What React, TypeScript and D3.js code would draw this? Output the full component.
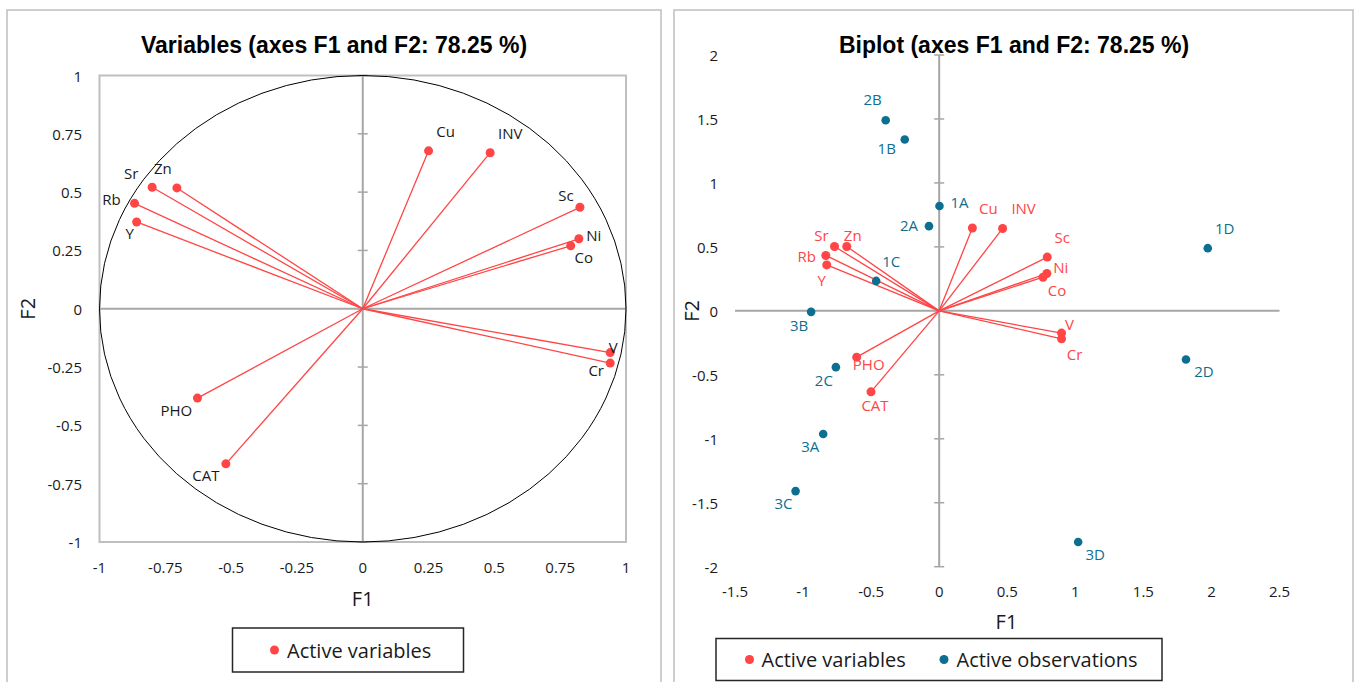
import React from 'react';
import * as d3 from 'd3';

// PCA correlation circle (left panel)
const varNames = ['Cu', 'INV', 'Sc', 'Ni', 'Co', 'V', 'Cr', 'PHO', 'CAT', 'Zn', 'Sr', 'Rb', 'Y'];
const varF1 = [0.25, 0.484, 0.825, 0.821, 0.79, 0.94, 0.94, -0.628, -0.52, -0.706, -0.8, -0.867, -0.859];
const varF2 = [0.677, 0.669, 0.435, 0.3, 0.27, -0.188, -0.233, -0.383, -0.665, 0.518, 0.521, 0.452, 0.372];

// biplot (right panel)
const biVarF1 = [0.244, 0.466, 0.794, 0.791, 0.763, 0.899, 0.899, -0.606, -0.501, -0.679, -0.769, -0.833, -0.826];
const biVarF2 = [0.648, 0.644, 0.42, 0.292, 0.263, -0.174, -0.219, -0.362, -0.633, 0.503, 0.503, 0.433, 0.359];

const obsNames = ['1A', '1B', '1C', '1D', '2A', '2B', '2C', '2D', '3A', '3B', '3C', '3D'];
const obsF1 = [0.002, -0.253, -0.463, 1.973, -0.075, -0.393, -0.759, 1.813, -0.852, -0.941, -1.055, 1.021];
const obsF2 = [0.82, 1.339, 0.234, 0.49, 0.662, 1.49, -0.44, -0.38, -0.963, -0.008, -1.409, -1.807];

const leftTicks = [-1, -0.75, -0.5, -0.25, 0, 0.25, 0.5, 0.75, 1];
const rightXTicks = [-1.5, -1, -0.5, 0, 0.5, 1, 1.5, 2, 2.5];
const rightYTicks = [-2, -1.5, -1, -0.5, 0, 0.5, 1, 1.5, 2];

// label placement (px offsets from the point)
const leftLabelOff: Record<string, [number, number]> = {
  Cu: [17, -20], INV: [20, -20], Sc: [-14, -12], Ni: [15, -4], Co: [13, 11], V: [3, -6], Cr: [-14, 7],
  PHO: [-21, 12], CAT: [-20, 11], Zn: [-14, -20], Sr: [-21, -14], Rb: [-23, -4], Y: [-7, 11],
};
const biVarLabelOff: Record<string, [number, number]> = {
  Cu: [16, -20], INV: [21, -20], Sc: [15, -20], Ni: [14, -6], Co: [14, 13], V: [8, -9], Cr: [13, 15],
  PHO: [12, 7], CAT: [4, 13], Zn: [6, -12], Sr: [-13, -12], Rb: [-19, 1], Y: [-5, 15],
};
const obsLabelOff: Record<string, [number, number]> = {
  '1A': [20, -4], '1B': [-18, 8], '1C': [15, -20], '1D': [17, -20], '2A': [-20, -1], '2B': [-13, -21],
  '2C': [-12, 13], '2D': [18, 12], '3A': [-13, 12], '3B': [-12, 13], '3C': [-12, 12], '3D': [17, 12],
};

const RED = '#ff4545';
const TEAL = '#0d6f8f';
const AXIS = '#a6a6a6';
const FRAME = '#bfbfbf';
const TXT = '#1a1a1a';
const FONT = '"Open Sans", sans-serif';

const fmt = (v: number) => String(v);

const LeftPanel: React.FC = () => {
  const x = d3.scaleLinear().domain([-1, 1]).range([99.5, 626]);
  const y = d3.scaleLinear().domain([-1, 1]).range([542, 75.5]);
  const cx = x(0), cy = y(0);
  return (
    <g>
      <rect x={7} y={10} width={654} height={690} fill="#fff" stroke={FRAME} strokeWidth={1.5} />
      <text x={334} y={45} textAnchor="middle" dominantBaseline="central" fontFamily='"Liberation Sans", Arial, sans-serif'
        fontWeight="bold" fontSize={23} fill="#000">Variables (axes F1 and F2: 78.25 %)</text>
      <rect x={x(-1)} y={y(1)} width={x(1) - x(-1)} height={y(-1) - y(1)} fill="none" stroke={FRAME} strokeWidth={2} />
      <line x1={x(-1)} x2={x(1)} y1={cy} y2={cy} stroke={AXIS} strokeWidth={2} />
      <line x1={cx} x2={cx} y1={y(1)} y2={y(-1)} stroke={AXIS} strokeWidth={2} />
      {leftTicks.map(t => (
        <line key={'yt' + t} x1={cx - 5} x2={cx + 5} y1={y(t)} y2={y(t)} stroke={AXIS} strokeWidth={1.5} />
      ))}
      <ellipse cx={cx} cy={cy} rx={x(1) - cx} ry={cy - y(1)} fill="none" stroke="#000" strokeWidth={1} />
      {leftTicks.map(t => (
        <text key={'yl' + t} x={82} y={y(t)} textAnchor="end" dominantBaseline="central" fontFamily={FONT} fontSize={15} fill={TXT}>{fmt(t)}</text>
      ))}
      {leftTicks.map(t => (
        <text key={'xl' + t} x={x(t)} y={567} textAnchor="middle" dominantBaseline="central" fontFamily={FONT} fontSize={15} fill={TXT}>{fmt(t)}</text>
      ))}
      <text x={cx} y={598} textAnchor="middle" dominantBaseline="central" fontFamily={FONT} fontSize={20} fill={TXT}>F1</text>
      <text transform={`translate(27,${cy}) rotate(-90)`} textAnchor="middle" dominantBaseline="central" fontFamily={FONT} fontSize={20} fill={TXT}>F2</text>
      {varNames.map((n, i) => (
        <line key={'vl' + n} x1={cx} y1={cy} x2={x(varF1[i])} y2={y(varF2[i])} stroke={RED} strokeWidth={1.3} />
      ))}
      {varNames.map((n, i) => (
        <circle key={'vc' + n} cx={x(varF1[i])} cy={y(varF2[i])} r={4.5} fill={RED} />
      ))}
      {varNames.map((n, i) => (
        <text key={'vt' + n} x={x(varF1[i]) + leftLabelOff[n][0]} y={y(varF2[i]) + leftLabelOff[n][1]} textAnchor="middle"
          dominantBaseline="central" fontFamily={FONT} fontSize={15} fill={TXT}>{n}</text>
      ))}
      <rect x={232.5} y={628} width={231} height={44} fill="#fff" stroke="#262626" strokeWidth={1.5} />
      <circle cx={274.5} cy={650} r={4.5} fill={RED} />
      <text x={287} y={650} dominantBaseline="central" fontFamily={FONT} fontSize={20} fill={TXT}>Active variables</text>
    </g>
  );
};

const RightPanel: React.FC = () => {
  const x = d3.scaleLinear().domain([-1.5, 2.5]).range([735, 1279.5]);
  const y = d3.scaleLinear().domain([-2, 2]).range([566.7, 55]);
  const cx = x(0), cy = y(0);
  return (
    <g>
      <rect x={674} y={10} width={679} height={690} fill="#fff" stroke={FRAME} strokeWidth={1.5} />
      <text x={1014} y={45} textAnchor="middle" dominantBaseline="central" fontFamily='"Liberation Sans", Arial, sans-serif'
        fontWeight="bold" fontSize={23} fill="#000">Biplot (axes F1 and F2: 78.25 %)</text>
      <line x1={x(-1.5)} x2={x(2.5)} y1={cy} y2={cy} stroke={AXIS} strokeWidth={2} />
      <line x1={cx} x2={cx} y1={y(2)} y2={y(-2)} stroke={AXIS} strokeWidth={2} />
      {rightYTicks.map(t => (
        <line key={'yt' + t} x1={cx - 5} x2={cx + 5} y1={y(t)} y2={y(t)} stroke={AXIS} strokeWidth={1.5} />
      ))}
      {rightYTicks.map(t => (
        <text key={'yl' + t} x={718} y={y(t)} textAnchor="end" dominantBaseline="central" fontFamily={FONT} fontSize={15} fill={TXT}>{fmt(t)}</text>
      ))}
      {rightXTicks.map(t => (
        <text key={'xl' + t} x={x(t)} y={591} textAnchor="middle" dominantBaseline="central" fontFamily={FONT} fontSize={15} fill={TXT}>{fmt(t)}</text>
      ))}
      <text x={1006.5} y={621} textAnchor="middle" dominantBaseline="central" fontFamily={FONT} fontSize={20} fill={TXT}>F1</text>
      <text transform={`translate(691,${cy}) rotate(-90)`} textAnchor="middle" dominantBaseline="central" fontFamily={FONT} fontSize={20} fill={TXT}>F2</text>
      {varNames.map((n, i) => (
        <line key={'bl' + n} x1={cx} y1={cy} x2={x(biVarF1[i])} y2={y(biVarF2[i])} stroke={RED} strokeWidth={1.3} />
      ))}
      {varNames.map((n, i) => (
        <circle key={'bc' + n} cx={x(biVarF1[i])} cy={y(biVarF2[i])} r={4.5} fill={RED} />
      ))}
      {varNames.map((n, i) => (
        <text key={'bt' + n} x={x(biVarF1[i]) + biVarLabelOff[n][0]} y={y(biVarF2[i]) + biVarLabelOff[n][1]} textAnchor="middle"
          dominantBaseline="central" fontFamily={FONT} fontSize={15} fill={RED}>{n}</text>
      ))}
      {obsNames.map((n, i) => (
        <circle key={'oc' + n} cx={x(obsF1[i])} cy={y(obsF2[i])} r={4.3} fill={TEAL} />
      ))}
      {obsNames.map((n, i) => (
        <text key={'ot' + n} x={x(obsF1[i]) + obsLabelOff[n][0]} y={y(obsF2[i]) + obsLabelOff[n][1]} textAnchor="middle"
          dominantBaseline="central" fontFamily={FONT} fontSize={15} fill={TEAL}>{n}</text>
      ))}
      <rect x={716} y={638.5} width={446} height={42} fill="#fff" stroke="#262626" strokeWidth={1.5} />
      <circle cx={749.5} cy={659.5} r={4.5} fill={RED} />
      <text x={761.5} y={659.5} dominantBaseline="central" fontFamily={FONT} fontSize={20} fill={TXT}>Active variables</text>
      <circle cx={944} cy={659.5} r={4.5} fill={TEAL} />
      <text x={956.5} y={659.5} dominantBaseline="central" fontFamily={FONT} fontSize={20} fill={TXT}>Active observations</text>
    </g>
  );
};

const App: React.FC = () => (
  <svg width={1360} height={682} style={{ position: 'absolute', left: 0, top: 0, display: 'block', background: '#fff' }}>
    <LeftPanel />
    <RightPanel />
  </svg>
);

export default App;
